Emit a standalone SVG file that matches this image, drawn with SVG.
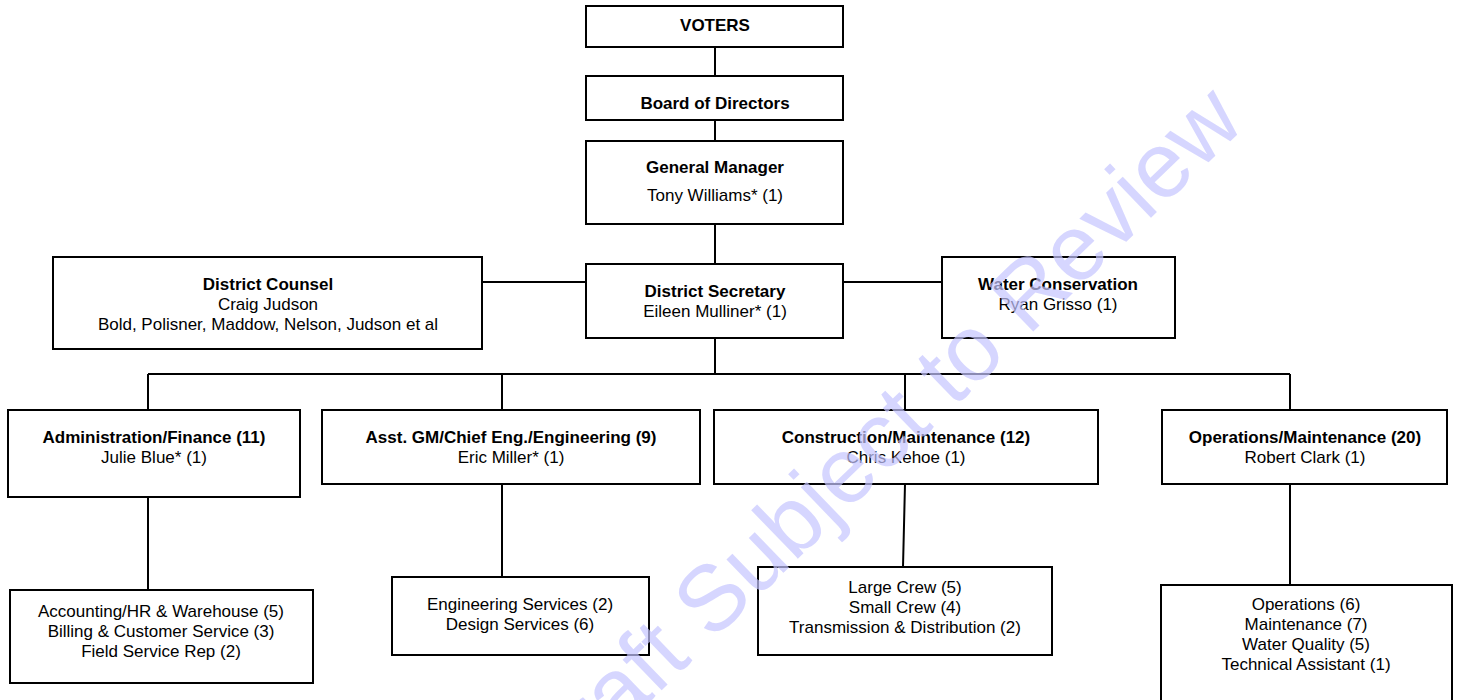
<svg xmlns="http://www.w3.org/2000/svg" width="1460" height="700" viewBox="0 0 1460 700">
<style>
.box{fill:#fff;stroke:#000;stroke-width:2}
.ln{stroke:#000;stroke-width:2;fill:none}
text{font-family:"Liberation Sans",Arial,sans-serif;font-size:17px;fill:#000;text-anchor:middle}
.b{font-weight:bold}
.wm{font-size:93px;fill:#c4c4ff;fill-opacity:0.7;text-anchor:start}
</style>
<rect width="1460" height="700" fill="#fff"/>
<g id="connectors">
<path class="ln" d="M715 47V76M715 120V141M715 224V264M482 282H586M843 282H942M715 338V374M148 374H1290M148 374V410M502 374V410M905 374V410M1290 374V410M148 497V590M502 484V577M905 484L903 567M1290 484V585"/>
</g>
<g id="voters"><rect class="box" x="586" y="6" width="257" height="41"/><text class="b" x="715" y="31">VOTERS</text></g>
<g id="board"><rect class="box" x="586" y="76" width="257" height="44"/><text class="b" x="715" y="109">Board of Directors</text></g>
<g id="gm"><rect class="box" x="586" y="141" width="257" height="83"/><text class="b" x="715" y="173">General Manager</text><text x="715" y="201">Tony Williams* (1)</text></g>
<g id="counsel"><rect class="box" x="53" y="257" width="429" height="92"/><text class="b" x="268" y="290">District Counsel</text><text x="268" y="310">Craig Judson</text><text x="268" y="330">Bold, Polisner, Maddow, Nelson, Judson et al</text></g>
<g id="secretary"><rect class="box" x="586" y="264" width="257" height="74"/><text class="b" x="715" y="297">District Secretary</text><text x="715" y="317">Eileen Mulliner* (1)</text></g>
<g id="water"><rect class="box" x="942" y="257" width="233" height="81"/><text class="b" x="1058" y="290">Water Conservation</text><text x="1058" y="310">Ryan Grisso (1)</text></g>
<g id="admin"><rect class="box" x="8" y="410" width="292" height="87"/><text class="b" x="154" y="443">Administration/Finance (11)</text><text x="154" y="463">Julie Blue* (1)</text></g>
<g id="eng"><rect class="box" x="322" y="410" width="378" height="74"/><text class="b" x="511" y="443">Asst. GM/Chief Eng./Engineering (9)</text><text x="511" y="463">Eric Miller* (1)</text></g>
<g id="construction"><rect class="box" x="714" y="410" width="384" height="74"/><text class="b" x="906" y="443">Construction/Maintenance (12)</text><text x="906" y="463">Chris Kehoe (1)</text></g>
<g id="operations"><rect class="box" x="1162" y="410" width="285" height="74"/><text class="b" x="1305" y="443">Operations/Maintenance (20)</text><text x="1305" y="463">Robert Clark (1)</text></g>
<g id="admin-sub"><rect class="box" x="10" y="590" width="303" height="93"/><text x="161" y="617">Accounting/HR &amp; Warehouse (5)</text><text x="161" y="637">Billing &amp; Customer Service (3)</text><text x="161" y="657">Field Service Rep (2)</text></g>
<g id="eng-sub"><rect class="box" x="392" y="577" width="257" height="78"/><text x="520" y="610">Engineering Services (2)</text><text x="520" y="630">Design Services (6)</text></g>
<g id="construction-sub"><rect class="box" x="758" y="567" width="294" height="88"/><text x="905" y="593">Large Crew (5)</text><text x="905" y="613">Small Crew (4)</text><text x="905" y="633">Transmission &amp; Distribution (2)</text></g>
<g id="operations-sub"><rect class="box" x="1161" y="585" width="291" height="118"/><text x="1306" y="610">Operations (6)</text><text x="1306" y="630">Maintenance (7)</text><text x="1306" y="650">Water Quality (5)</text><text x="1306" y="670">Technical Assistant (1)</text></g>
<text class="wm" x="548" y="800" transform="rotate(-44 548 800)">Draft Subject to Review</text>
</svg>
